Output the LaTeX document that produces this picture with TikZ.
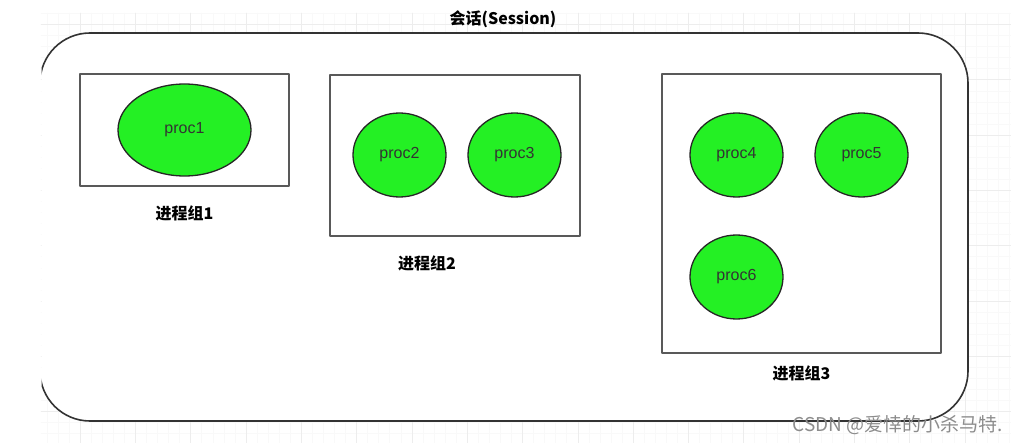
\documentclass[tikz,border=0pt]{standalone}
\usepackage{fontspec}
\setmainfont{Liberation Sans}
\newfontfamily\cjk{Noto Sans CJK SC}
\usetikzlibrary{shapes.geometric}
\definecolor{xanhla}{RGB}{36,240,36}
\begin{document}
\begin{tikzpicture}[x=1pt,y=-1pt, line join=round, line cap=round,
	tientrinh/.style={ellipse,draw=black!85,line width=1.3pt,fill=xanhla,inner sep=0pt,
		font=\fontsize{16}{19}\selectfont,text=black!80},
	nhom/.style={rectangle,draw=black!65,line width=1.8pt,inner sep=0pt},
	tennhom/.style={font=\cjk\bfseries\fontsize{16}{19}\selectfont,inner sep=0pt}]
	%%Khung hình
	\def \rong{1011}
	\def \cao{443}
	\useasboundingbox (0,0) rectangle (\rong,\cao);
	%%Lưới nền
	\begin{scope}[shift={(80,24.4)}]
		\draw[gray!5,step=11.06pt] (-39,-11.4) grid (931,418.6);
		\draw[gray!14,step=55.3pt] (-39,-11.4) grid (931,418.6);
	\end{scope}
	%%Phiên
	\begin{scope}
		\clip (41.5,0) rectangle (\rong,\cao);
		\draw[black!80,line width=1.6pt,fill=white,rounded corners=50pt] (40,33) rectangle (968,421);
	\end{scope}
	\node[tennhom] (tieude) at (503,19) {会话(Session)};
	%%Nhóm tiến trình
	\node[nhom,minimum width=209,minimum height=112] (nhom1) at (184.5,130) {};
	\node[nhom,minimum width=250,minimum height=161] (nhom2) at (455,155.5) {};
	\node[nhom,minimum width=279,minimum height=279] (nhom3) at (801.5,213.5) {};
	\node[tennhom] (ten1) at ([yshift=-27pt]nhom1.south) {进程组1};
	\node[tennhom] (ten2) at ([xshift=-28pt,yshift=-27pt]nhom2.south) {进程组2};
	\node[tennhom] (ten3) at ([yshift=-20pt]nhom3.south) {进程组3};
	%%Tiến trình
	\node[tientrinh,minimum width=133,minimum height=92] (proc1) at (184.5,130) {proc1};
	\node[tientrinh,minimum width=93,minimum height=84] (proc2) at (399.5,155) {proc2};
	\node[tientrinh,minimum width=93,minimum height=84] (proc3) at (514.5,155) {proc3};
	\node[tientrinh,minimum width=93,minimum height=84] (proc4) at (736.5,155) {proc4};
	\node[tientrinh,minimum width=93,minimum height=84] (proc5) at (861.5,155) {proc5};
	\node[tientrinh,minimum width=93,minimum height=84] (proc6) at (736.5,277) {proc6};
	%%Chữ chìm
	\node[font=\cjk\fontsize{19}{22}\selectfont,text=black!45,inner sep=0pt] (chuchim) at (898,425) {CSDN @爱悻的小杀马特.};
\end{tikzpicture}
\end{document}
